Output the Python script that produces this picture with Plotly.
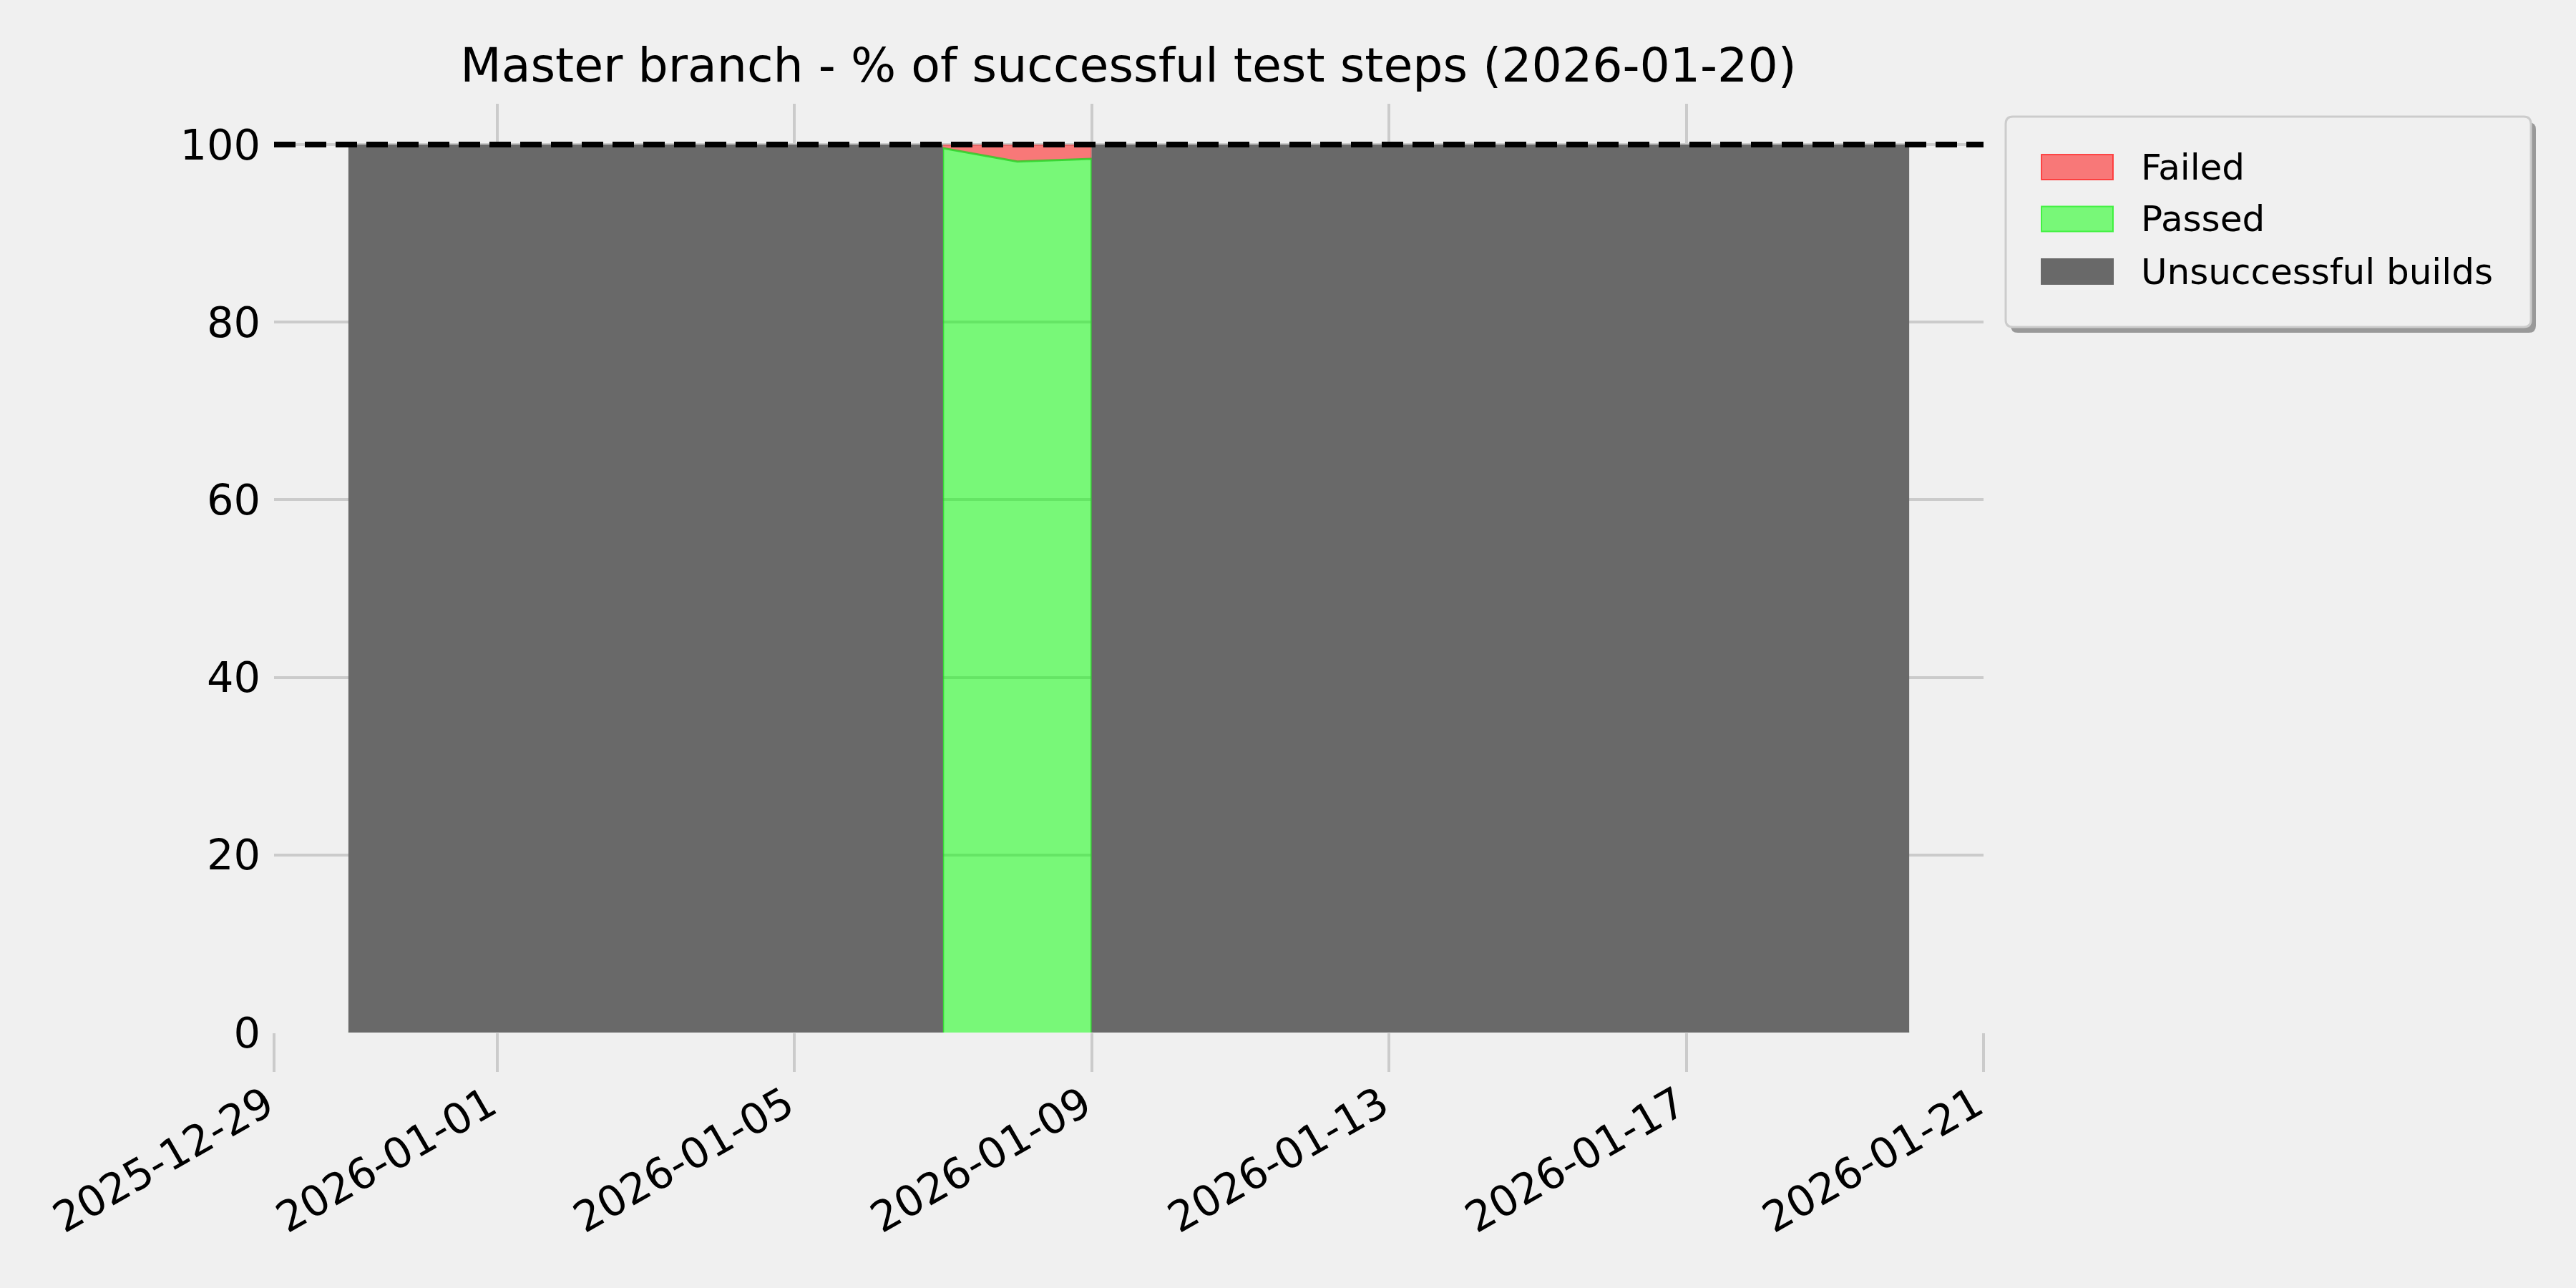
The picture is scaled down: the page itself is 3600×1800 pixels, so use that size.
import plotly.graph_objects as go

# daily results of the master branch (duplicated dates = same-day switch of build state)
dates = [
    "2025-12-30", "2025-12-31", "2026-01-01", "2026-01-02", "2026-01-03",
    "2026-01-04", "2026-01-05", "2026-01-06", "2026-01-07", "2026-01-07",
    "2026-01-08", "2026-01-09", "2026-01-09", "2026-01-10", "2026-01-11",
    "2026-01-12", "2026-01-13", "2026-01-14", "2026-01-15", "2026-01-16",
    "2026-01-17", "2026-01-18", "2026-01-19", "2026-01-20",
]
passed = [0, 0, 0, 0, 0, 0, 0, 0, 0, 99.6, 98.1, 98.4, 0, 0, 0, 0, 0, 0, 0, 0, 0, 0, 0, 0]
failed = [0, 0, 0, 0, 0, 0, 0, 0, 0, 0.4, 1.9, 1.6, 0, 0, 0, 0, 0, 0, 0, 0, 0, 0, 0, 0]
unsuccessful = [100, 100, 100, 100, 100, 100, 100, 100, 100, 0, 0, 0,
                100, 100, 100, 100, 100, 100, 100, 100, 100, 100, 100, 100]

x_ticks = ["2025-12-29", "2026-01-01", "2026-01-05", "2026-01-09",
           "2026-01-13", "2026-01-17", "2026-01-21"]
y_ticks = [0, 20, 40, 60, 80, 100]
report_date = "2026-01-20"

FONT = "DejaVu Sans"
BG = "#f0f0f0"
GRID = "#cbcbcb"

# plot area in pixels (3600x1800 page)
L, R, T, B = 383, 2772, 145, 1443


def px_x(p):
    return (p - L) / (R - L)


def px_y(p):
    return (B - p) / (B - T)


def rounded_rect(x0, y0, x1, y1, r):
    # pixel box -> paper path with rounded corners
    rx = r / (R - L)
    ry = r / (B - T)
    a, b, c, d = px_x(x0), px_y(y0), px_x(x1), px_y(y1)
    return (f"M{a + rx},{b} L{c - rx},{b} Q{c},{b} {c},{b - ry} "
            f"L{c},{d + ry} Q{c},{d} {c - rx},{d} L{a + rx},{d} "
            f"Q{a},{d} {a},{d + ry} L{a},{b - ry} Q{a},{b} {a + rx},{b} Z")


# stack like stackplot: passed at the bottom, failed above, then unsuccessful builds
top_passed = passed
top_failed = [p + f for p, f in zip(passed, failed)]
top_all = [t + u for t, u in zip(top_failed, unsuccessful)]

series = [
    ("Passed", top_passed, "tozeroy", "rgba(0,255,0,0.5)", "rgba(30,210,30,0.75)", 3),
    ("Failed", top_failed, "tonexty", "rgba(255,0,0,0.5)", "rgba(255,0,0,0.5)", 0),
    ("Unsuccessful builds", top_all, "tonexty", "#696969", "#696969", 0),
]

fig = go.Figure()
for name, ys, fill, fc, lc, lw in series:
    fig.add_trace(go.Scatter(
        x=dates, y=ys, mode="lines", fill=fill, fillcolor=fc,
        line=dict(color=lc, width=lw), name=name, showlegend=False,
    ))

fig.update_layout(
    width=3600, height=1800,
    paper_bgcolor=BG, plot_bgcolor=BG,
    margin=dict(l=L, r=3600 - R, t=T, b=1800 - B),
    font=dict(family=FONT, color="black"),
    title=dict(
        text=f"Master branch - % of successful test steps ({report_date})",
        font=dict(size=66.5, family=FONT, color="black"),
        x=px_x(1577), xref="paper", xanchor="center",
        y=1 - 91 / 1800, yref="container", yanchor="middle",
    ),
    xaxis=dict(
        type="date", range=[x_ticks[0], x_ticks[-1]],
        tickvals=x_ticks, ticktext=x_ticks, tickangle=-30,
        tickfont=dict(size=59, family=FONT, color="black"),
        showgrid=True, gridcolor=GRID, gridwidth=3.5,
        ticks="outside", ticklen=54, tickwidth=3.5, tickcolor=GRID,
        ticklabelstandoff=-12, ticklabelshift=-11,
        showline=False, zeroline=False,
    ),
    yaxis=dict(
        range=[0, 104.6], tickvals=y_ticks,
        tickfont=dict(size=59, family=FONT, color="black"),
        showgrid=True, gridcolor=GRID, gridwidth=3.5,
        ticks="", ticklabelstandoff=18,
        showline=False, zeroline=False,
    ),
)

# 100% reference line
fig.add_shape(type="line", xref="paper", yref="y", x0=0, x1=1, y0=100, y1=100,
              line=dict(color="black", width=8, dash="30px,13px"))

# legend box with shadow, drawn by hand to match the original
fig.add_shape(type="path", xref="paper", yref="paper", path=rounded_rect(2810, 171, 3544, 465, 10),
              fillcolor="#999999", line=dict(width=0))
fig.add_shape(type="path", xref="paper", yref="paper", path=rounded_rect(2803, 163, 3537, 457, 10),
              fillcolor=BG, line=dict(color="#cccccc", width=3))

legend_items = [
    ("Failed", "rgba(255,0,0,0.5)", "rgba(255,40,40,0.8)"),
    ("Passed", "rgba(0,255,0,0.5)", "rgba(40,240,40,0.8)"),
    ("Unsuccessful builds", "#696969", "#696969"),
]
row_y = [233.5, 306, 379.5]
for (label, fc, lc), cy in zip(legend_items, row_y):
    fig.add_shape(type="rect", xref="paper", yref="paper",
                  x0=px_x(2853), x1=px_x(2953), y0=px_y(cy - 17.5), y1=px_y(cy + 17.5),
                  fillcolor=fc, line=dict(color=lc, width=2))
    fig.add_annotation(text=label, xref="paper", yref="paper",
                       x=px_x(2990), y=px_y(cy), xanchor="left", yanchor="middle",
                       showarrow=False, font=dict(size=50, family=FONT, color="black"))

# drop the default page margin so the figure sits at the window origin
fig.write_html("out.html", config={"displayModeBar": False},
               post_script="document.body.style.margin='0px';")
